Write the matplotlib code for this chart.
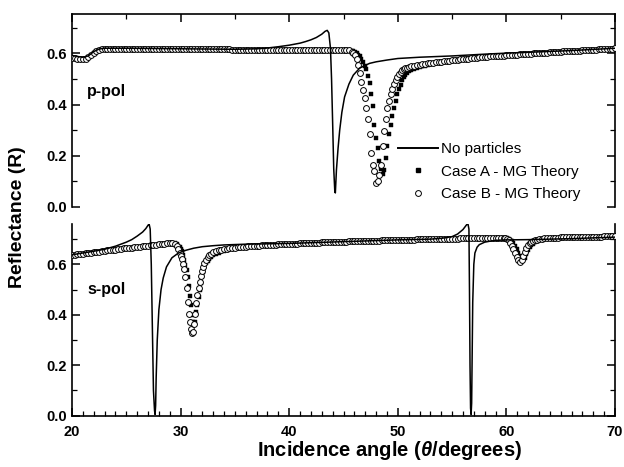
import matplotlib
matplotlib.use("Agg")
import matplotlib.pyplot as plt
from matplotlib.ticker import MultipleLocator
from matplotlib.lines import Line2D

plt.rcParams['font.family'] = ['Liberation Sans', 'DejaVu Sans']
plt.rcParams['mathtext.fontset'] = 'custom'
plt.rcParams['mathtext.it'] = 'Liberation Sans:italic:bold'
plt.rcParams['mathtext.rm'] = 'Liberation Sans:bold'

# ================= p-polarisation =================
# solid line: no particles
p_line_theta = [20, 20.5, 21, 21.5, 22, 22.5, 23, 25, 30, 35, 37, 38, 39, 40, 41, 41.5, 42, 42.5,
                43, 43.3, 43.5, 43.65, 43.8, 43.9, 44.0, 44.1, 44.2, 44.25, 44.35, 44.5, 44.65,
                44.85, 45.1, 45.5, 45.9, 46.5, 47.4, 48, 49, 50, 52, 55, 58, 60, 63, 66, 70]
p_line_R = [0.592, 0.588, 0.585, 0.59, 0.607, 0.617, 0.62, 0.62, 0.618, 0.616, 0.618, 0.621,
            0.626, 0.632, 0.64, 0.646, 0.653, 0.662, 0.675, 0.686, 0.69, 0.68, 0.62, 0.5, 0.33,
            0.15, 0.06, 0.055, 0.145, 0.23, 0.30, 0.37, 0.43, 0.48, 0.515, 0.543, 0.561, 0.567,
            0.574, 0.58, 0.585, 0.59, 0.597, 0.601, 0.606, 0.611, 0.62]

# markers, left flat part (Case A and Case B coincide)
p_left_theta = [20, 20.25, 20.5, 20.75, 21, 21.25, 21.5, 21.75, 22, 22.25, 22.5, 22.75, 23,
                23.25, 23.5, 23.75, 24, 24.25, 24.5, 24.75, 25, 25.25, 25.5, 25.75, 26, 26.25,
                26.5, 26.75, 27, 27.25, 27.5, 27.75, 28, 28.25, 28.5, 28.75, 29, 29.25, 29.5,
                29.75, 30,
                30.25, 30.5, 30.75, 31, 31.25, 31.5, 31.75, 32, 32.25, 32.5, 32.75, 33, 33.25,
                33.5, 33.75, 34, 34.25, 34.5, 34.75, 35, 35.25, 35.5, 35.75, 36, 36.25, 36.5,
                36.75, 37,
                37.25, 37.5, 37.75, 38, 38.25, 38.5, 38.75, 39, 39.25, 39.5, 39.75, 40, 40.25,
                40.5, 40.75, 41, 41.25, 41.5, 41.75, 42, 42.25, 42.5, 42.75, 43, 43.25, 43.5,
                43.75, 44, 44.25, 44.5, 44.75, 45, 45.25,
                45.5]
p_left_R = [0.582, 0.581, 0.58, 0.579, 0.578, 0.58, 0.585, 0.593, 0.603, 0.609, 0.614, 0.616,
            0.618,
            0.619, 0.619, 0.619, 0.619, 0.619, 0.619, 0.619, 0.619, 0.619, 0.619,
            0.618, 0.618, 0.618, 0.618, 0.618, 0.618, 0.618, 0.618, 0.618, 0.618,
            0.617, 0.617, 0.617, 0.617, 0.617, 0.617, 0.617, 0.617,
            0.617, 0.617, 0.617, 0.617, 0.617, 0.617,
            0.616, 0.616, 0.616, 0.616, 0.616, 0.616, 0.616, 0.616, 0.616, 0.616, 0.616, 0.616,
            0.615, 0.615, 0.615, 0.615, 0.615, 0.615, 0.615, 0.615, 0.615, 0.615,
            0.615, 0.615, 0.615, 0.615, 0.615,
            0.614, 0.614, 0.614, 0.614, 0.614, 0.614, 0.614, 0.614, 0.614, 0.614, 0.614, 0.614,
            0.614, 0.614,
            0.613, 0.613, 0.613, 0.613, 0.613, 0.613, 0.613, 0.613, 0.613, 0.613, 0.613, 0.613,
            0.613, 0.613,
            0.612]

# markers, resonance dip
p_dip_theta = [45.75, 45.9, 46.05, 46.2, 46.35, 46.5, 46.65, 46.8, 46.95, 47.1,
               47.25, 47.4, 47.55, 47.7, 47.85, 48.0, 48.15, 48.3, 48.45, 48.6,
               48.75, 48.9, 49.05, 49.2, 49.35, 49.5, 49.65, 49.8, 49.95, 50.1,
               50.25, 50.4, 50.55, 50.7, 50.85, 51.0]
p_dip_A = [0.611, 0.609, 0.606, 0.60, 0.595, 0.588, 0.578, 0.565, 0.552, 0.54,
           0.51, 0.483, 0.44, 0.395, 0.32, 0.27, 0.23, 0.18, 0.15, 0.13,
           0.145, 0.19, 0.24, 0.285, 0.32, 0.355, 0.385, 0.415, 0.44, 0.46,
           0.478, 0.495, 0.507, 0.517, 0.525, 0.531]
p_dip_B = [0.607, 0.600, 0.592, 0.58, 0.555, 0.525, 0.489, 0.457, 0.425, 0.388,
           0.345, 0.285, 0.21, 0.165, 0.14, 0.095, 0.10, 0.125, 0.165, 0.24,
           0.295, 0.345, 0.385, 0.415, 0.44, 0.46, 0.48, 0.495, 0.508, 0.518,
           0.527, 0.534, 0.538, 0.541, 0.544, 0.546]

# markers, recovery (A and B slightly apart)
p_mid_theta = [51.25, 51.5, 51.75, 52, 52.25, 52.5, 52.75, 53, 53.25, 53.5, 53.75, 54, 54.25,
               54.5, 54.75, 55, 55.25, 55.5, 55.75, 56]
p_mid_A = [0.536, 0.54, 0.544, 0.547, 0.55, 0.552, 0.555, 0.557, 0.559, 0.561, 0.563, 0.564,
           0.566, 0.568, 0.57, 0.571, 0.573, 0.574, 0.576, 0.577]
p_mid_B = [0.549, 0.551, 0.553, 0.555, 0.557, 0.559, 0.561, 0.562, 0.564, 0.565, 0.567, 0.568,
           0.57, 0.571, 0.572, 0.573, 0.575, 0.576, 0.577, 0.578]

# markers, right flat part (A and B coincide)
p_tail_theta = [56.25, 56.5, 56.75,
                57, 57.25, 57.5, 57.75, 58, 58.25, 58.5, 58.75, 59, 59.25, 59.5, 59.75,
                60, 60.25, 60.5, 60.75, 61, 61.25, 61.5, 61.75, 62, 62.25, 62.5, 62.75,
                63, 63.25, 63.5, 63.75, 64, 64.25, 64.5, 64.75, 65, 65.25, 65.5, 65.75,
                66, 66.25, 66.5, 66.75, 67, 67.25, 67.5, 67.75, 68, 68.25, 68.5, 68.75,
                69, 69.25, 69.5, 69.75, 70]
p_tail_R = [0.579, 0.58, 0.581,
            0.582, 0.583, 0.584, 0.585, 0.586, 0.587, 0.588, 0.588, 0.589, 0.59, 0.591, 0.591,
            0.592, 0.593, 0.594, 0.594, 0.595, 0.596, 0.597, 0.597, 0.598, 0.599, 0.60, 0.60,
            0.601, 0.602, 0.603, 0.603, 0.604, 0.605, 0.606, 0.606, 0.607, 0.608, 0.609, 0.609,
            0.61, 0.61, 0.611, 0.611, 0.612, 0.613, 0.614, 0.614, 0.615, 0.615, 0.616, 0.617,
            0.618, 0.618, 0.619, 0.619, 0.62]

# ================= s-polarisation =================
s_line_theta = [20, 21, 22, 23, 24, 24.5, 25, 25.5, 26, 26.5, 26.8, 27.0, 27.1, 27.2, 27.3,
                27.4, 27.5, 27.6, 27.65, 27.7, 27.75, 27.85, 28.0, 28.2, 28.4, 28.7, 29.2, 29.8,
                30.5, 31.2, 32, 33, 34, 36, 40, 45, 50, 53, 54, 55, 55.5, 56, 56.3, 56.45, 56.55,
                56.6, 56.65, 56.7, 56.75, 56.8, 56.85, 56.9, 57.0, 57.1, 57.3, 57.5, 58, 58.5, 59,
                60, 62, 64, 66, 68, 70]
s_line_R = [0.638, 0.645, 0.652, 0.66, 0.672, 0.68, 0.688, 0.698, 0.712, 0.728, 0.742, 0.755,
            0.76, 0.74, 0.6, 0.35, 0.1, 0.02, 0.005, 0.04, 0.15, 0.3, 0.42, 0.5, 0.546, 0.59,
            0.626, 0.645, 0.656, 0.664, 0.670, 0.674, 0.677, 0.68, 0.683, 0.69, 0.697, 0.70,
            0.703, 0.71, 0.72, 0.738, 0.755, 0.763, 0.74, 0.5, 0.2, 0.03, 0.005, 0.05, 0.25, 0.45,
            0.6, 0.645, 0.668, 0.678, 0.688, 0.692, 0.695, 0.697, 0.698, 0.70, 0.702, 0.705, 0.708]

s_head_theta = [20, 20.25, 20.5, 20.75, 21, 21.25, 21.5, 21.75, 22, 22.25, 22.5, 22.75,
                23, 23.25, 23.5, 23.75, 24, 24.25, 24.5, 24.75, 25, 25.25, 25.5, 25.75,
                26, 26.25, 26.5, 26.75, 27, 27.25, 27.5, 27.75, 28, 28.25, 28.5, 28.75,
                29, 29.25]
s_head_R = [0.637, 0.638, 0.64, 0.641, 0.643, 0.644, 0.645, 0.646, 0.648, 0.649, 0.65, 0.652,
            0.653, 0.655, 0.656, 0.657, 0.658, 0.66, 0.661, 0.663, 0.664, 0.665, 0.666, 0.668,
            0.669, 0.67, 0.671, 0.673, 0.674, 0.676, 0.677, 0.678, 0.679, 0.681, 0.682, 0.683,
            0.684, 0.684]

s_dip1_theta = [29.5, 29.65, 29.8, 29.95, 30.05, 30.15, 30.25, 30.35, 30.45, 30.55,
                30.65, 30.75, 30.85, 30.95, 31.05, 31.15, 31.25, 31.35, 31.45, 31.55,
                31.65, 31.75, 31.85, 31.95, 32.05, 32.2, 32.35, 32.5, 32.65, 32.8,
                33.0, 33.25]
s_dip1_A = [0.683, 0.679, 0.674, 0.667, 0.662, 0.652, 0.636, 0.618, 0.598, 0.578,
            0.55, 0.515, 0.475, 0.437, 0.398, 0.372, 0.364, 0.372, 0.41, 0.44,
            0.47, 0.50, 0.528, 0.552, 0.568, 0.59, 0.606, 0.615, 0.623, 0.63,
            0.637, 0.643]
s_dip1_B = [0.679, 0.672, 0.661, 0.646, 0.634, 0.62, 0.603, 0.58, 0.548, 0.505,
            0.452, 0.405, 0.37, 0.342, 0.328, 0.332, 0.365, 0.405, 0.448, 0.478,
            0.505, 0.53, 0.553, 0.572, 0.588, 0.606, 0.619, 0.628, 0.636, 0.642,
            0.648, 0.652]

s_mid1_theta = [33.5, 33.75, 34, 34.25, 34.5, 34.75, 35, 35.25, 35.5, 35.75, 36]
s_mid1_A = [0.647, 0.651, 0.654, 0.657, 0.659, 0.661, 0.663, 0.665, 0.666, 0.668, 0.669]
s_mid1_B = [0.655, 0.658, 0.66, 0.662, 0.663, 0.665, 0.666, 0.667, 0.668, 0.669, 0.67]

s_mid2_theta = [36.25, 36.5, 36.75,
                37, 37.25, 37.5, 37.75, 38, 38.25, 38.5, 38.75, 39, 39.25, 39.5, 39.75,
                40, 40.25, 40.5, 40.75, 41, 41.25, 41.5, 41.75, 42, 42.25, 42.5, 42.75,
                43, 43.25, 43.5, 43.75, 44, 44.25, 44.5, 44.75, 45, 45.25, 45.5, 45.75,
                46, 46.25, 46.5, 46.75, 47, 47.25, 47.5, 47.75, 48, 48.25, 48.5, 48.75,
                49, 49.25, 49.5, 49.75, 50, 50.25, 50.5, 50.75, 51, 51.25, 51.5, 51.75,
                52, 52.25, 52.5, 52.75, 53, 53.25, 53.5, 53.75, 54, 54.25, 54.5, 54.75,
                55, 55.25, 55.5, 55.75, 56, 56.25, 56.5, 56.75, 57, 57.25, 57.5, 57.75,
                58, 58.25, 58.5, 58.75, 59, 59.25, 59.5]
s_mid2_R = [0.671, 0.672, 0.673,
            0.674, 0.674, 0.675, 0.675, 0.677, 0.677, 0.678, 0.678, 0.679, 0.679, 0.68, 0.68,
            0.681, 0.681, 0.682, 0.682, 0.683, 0.683, 0.684, 0.684, 0.685, 0.685, 0.686, 0.686,
            0.687, 0.687, 0.688, 0.688, 0.688, 0.689, 0.689, 0.689, 0.69, 0.69, 0.691, 0.691,
            0.691, 0.692, 0.692, 0.692, 0.693, 0.693, 0.693, 0.694, 0.694, 0.694, 0.695, 0.695,
            0.695, 0.696, 0.696, 0.696, 0.697, 0.697, 0.697, 0.698, 0.698, 0.698, 0.698, 0.699,
            0.699, 0.699, 0.699, 0.70, 0.70, 0.70, 0.70, 0.701, 0.701, 0.701, 0.701, 0.702,
            0.702, 0.702, 0.702, 0.703, 0.703, 0.703, 0.703, 0.704, 0.704, 0.704, 0.704, 0.705,
            0.705, 0.705, 0.705, 0.706, 0.706, 0.706, 0.706]

s_dip2_theta = [59.75, 59.9, 60.05, 60.2, 60.35, 60.5, 60.65, 60.8, 60.95, 61.1,
                61.25, 61.4, 61.55, 61.7, 61.85, 62.0, 62.15, 62.3, 62.45, 62.6,
                62.8, 63.0, 63.25, 63.5, 63.75, 64.0, 64.25, 64.5]
s_dip2_A = [0.706, 0.706, 0.705, 0.702, 0.698, 0.692, 0.684, 0.673, 0.66, 0.647,
            0.634, 0.625, 0.621, 0.626, 0.641, 0.655, 0.667, 0.676, 0.682, 0.687,
            0.692, 0.696, 0.699, 0.70, 0.702, 0.703, 0.704, 0.705]
s_dip2_B = [0.706, 0.704, 0.701, 0.695, 0.686, 0.674, 0.66, 0.645, 0.63, 0.618,
            0.61, 0.616, 0.633, 0.65, 0.665, 0.676, 0.683, 0.688, 0.692, 0.695,
            0.698, 0.701, 0.702, 0.703, 0.704, 0.705, 0.705, 0.706]

s_tail_theta = [64.75, 65, 65.25, 65.5, 65.75, 66, 66.25, 66.5, 66.75, 67, 67.25, 67.5,
                67.75, 68, 68.25, 68.5, 68.75, 69, 69.25, 69.5, 69.75, 70]
s_tail_R = [0.706, 0.707, 0.707, 0.708, 0.708, 0.708, 0.708, 0.709, 0.709, 0.709, 0.709,
            0.71, 0.71, 0.71, 0.71, 0.71, 0.71, 0.711, 0.711, 0.711, 0.711, 0.711]

legend_labels = ['No particles', 'Case A - MG Theory', 'Case B - MG Theory']
panel_labels = ['p-pol', 's-pol']
x_label = r'Incidence angle ($\theta$/degrees)'
y_label = 'Reflectance (R)'

# assemble series
p_theta = p_left_theta + p_dip_theta + p_mid_theta + p_tail_theta
p_caseA = p_left_R + p_dip_A + p_mid_A + p_tail_R
p_caseB = p_left_R + p_dip_B + p_mid_B + p_tail_R
s_theta = s_head_theta + s_dip1_theta + s_mid1_theta + s_mid2_theta + s_dip2_theta + s_tail_theta
s_caseA = s_head_R + s_dip1_A + s_mid1_A + s_mid2_R + s_dip2_A + s_tail_R
s_caseB = s_head_R + s_dip1_B + s_mid1_B + s_mid2_R + s_dip2_B + s_tail_R

W, H = 624, 467
fig = plt.figure(figsize=(W / 100, H / 100), dpi=100)
L, R_ = 72 / W, 615 / W
ax1 = fig.add_axes([L, 1 - 207 / H, R_ - L, (207 - 13.7) / H])
ax2 = fig.add_axes([L, 1 - 415.7 / H, R_ - L, (415.7 - 224) / H])


def draw(ax, lt, lr, th, ra, rb):
    ax.plot(th, ra, linestyle='none', marker='s', ms=2.6, mfc='black', mec='black',
            mew=0.3, zorder=2)
    ax.plot(th, rb, linestyle='none', marker='o', ms=4.2, mfc='white', mec='black',
            mew=0.7, zorder=3)
    ax.plot(lt, lr, color='black', lw=1.1, zorder=4)


draw(ax1, p_line_theta, p_line_R, p_theta, p_caseA, p_caseB)
draw(ax2, s_line_theta, s_line_R, s_theta, s_caseA, s_caseB)

for ax in (ax1, ax2):
    ax.set_xlim(20, 70)
    ax.yaxis.set_major_locator(MultipleLocator(0.2))
    ax.yaxis.set_minor_locator(MultipleLocator(0.1))
    ax.xaxis.set_major_locator(MultipleLocator(10))
    ax.tick_params(axis='both', which='major', direction='in', length=6, width=1.1,
                   labelsize=10.5, left=True, right=True)
    ax.tick_params(axis='both', which='minor', direction='in', length=3.5, width=0.9,
                   left=True, right=True)
    for sp in ax.spines.values():
        sp.set_linewidth(1.2)

ax1.set_ylim(0, 0.755)
ax2.set_ylim(0, 0.76)
ax1.spines['bottom'].set_visible(False)
ax2.spines['top'].set_visible(False)
ax1.xaxis.set_minor_locator(MultipleLocator(5))
ax1.tick_params(axis='x', which='both', top=True, bottom=False, labeltop=False,
                labelbottom=False)
ax2.xaxis.set_minor_locator(MultipleLocator(1))
ax2.tick_params(axis='x', which='both', top=False, bottom=True)
ax2.tick_params(axis='x', which='major', pad=7)
for t in ax2.get_xticklabels():
    t.set_fontweight('bold')
    t.set_fontsize(10.5)
for ax in (ax1, ax2):
    ax.set_yticks([0.0, 0.2, 0.4, 0.6])
    ax.set_yticklabels(['0.0', '0.2', '0.4', '0.6'], fontweight='bold', fontsize=10.5)

ax1.text(21.4, 0.45, panel_labels[0], fontsize=11.5, fontweight='bold', va='center')
ax2.text(21.4, 0.50, panel_labels[1], fontsize=11.5, fontweight='bold', va='center')

fig.text(390 / W, 1 - 451 / H, x_label, ha='center', va='center', fontsize=14.5,
         fontweight='bold')
fig.text(18 / W, 1 - 217 / H, y_label, ha='center', va='center', rotation=90,
         fontsize=14, fontweight='bold')

handles = [Line2D([], [], color='black', lw=1.4),
           Line2D([], [], linestyle='none', marker='s', ms=3, mfc='black', mec='black'),
           Line2D([], [], linestyle='none', marker='o', ms=4.2, mfc='white', mec='black',
                  mew=0.7)]
ax1.legend(handles, legend_labels, loc='upper left', bbox_to_anchor=(0.60, 0.335),
           frameon=False, fontsize=11, handlelength=2.6, handletextpad=0.25,
           borderpad=0, borderaxespad=0, labelspacing=0.55)

fig.savefig('out.png', dpi=100)
